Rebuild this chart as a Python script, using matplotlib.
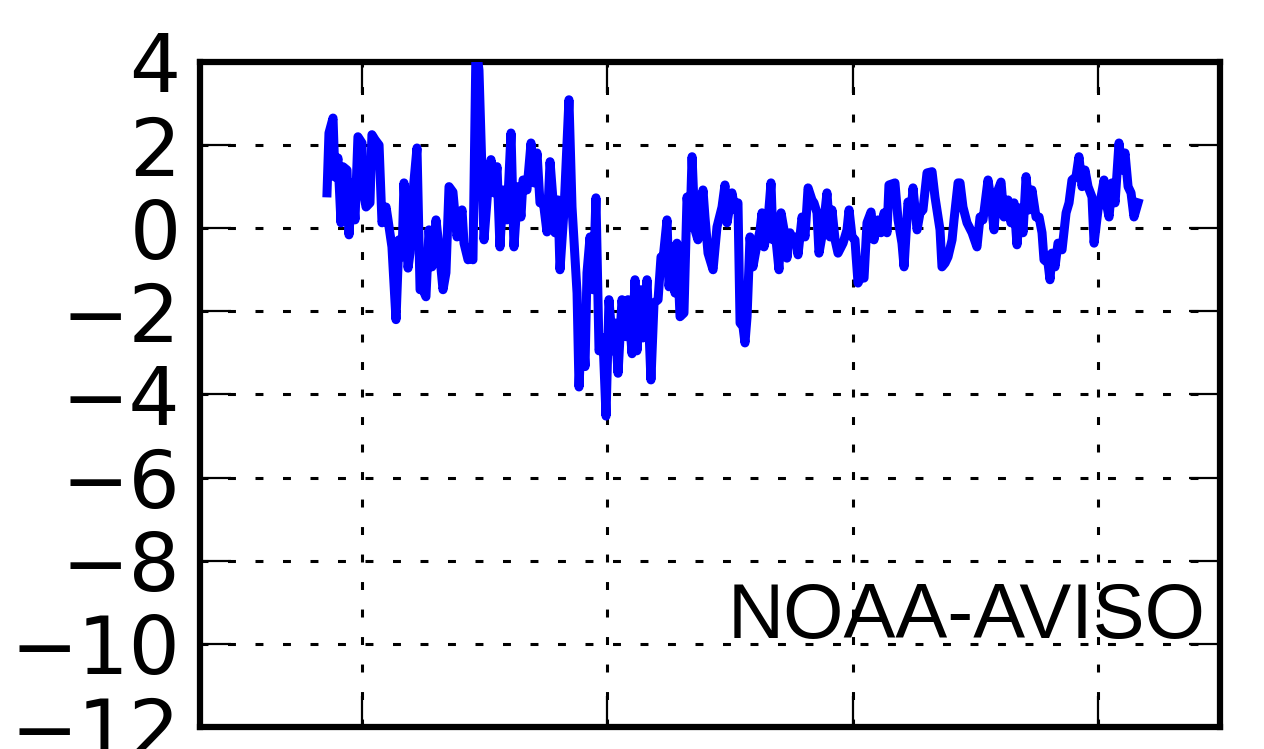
import numpy as np
import matplotlib
matplotlib.use("Agg")
import matplotlib.pyplot as plt

# time axis (decimal years) and anomaly values
years = [
    1957.15, 1957.31, 1957.64, 1957.80, 1958.04, 1958.29, 1958.45, 1958.78, 1958.94, 1959.19,
    1959.43, 1959.67, 1960.00, 1960.08, 1960.33, 1960.65, 1960.81, 1961.06, 1961.39, 1961.63,
    1961.96, 1962.12, 1962.44, 1962.77, 1963.01, 1963.26, 1963.42, 1963.75, 1963.91, 1964.15,
    1964.48, 1964.73, 1964.97, 1965.21, 1965.46, 1965.70, 1966.03, 1966.27, 1966.60, 1966.84,
    1967.09, 1967.41, 1967.74,
    1968.15, 1968.31, 1968.64, 1968.88, 1969.04, 1969.29, 1969.53, 1969.94, 1970.27, 1970.51,
    1970.75, 1971.00, 1971.24, 1971.49, 1971.81, 1972.14, 1972.38, 1972.71, 1972.95, 1973.12,
    1973.44, 1973.77, 1974.01, 1974.26, 1974.50, 1974.75, 1975.07, 1975.32, 1975.56, 1975.72,
    1975.97, 1976.13, 1976.46, 1976.86, 1977.11, 1977.52,
    1977.68, 1977.92, 1978.17, 1978.33, 1978.58, 1978.82, 1979.06, 1979.31, 1979.63, 1979.88,
    1980.12, 1980.45, 1980.61, 1980.86, 1981.18, 1981.51, 1981.67, 1982.00, 1982.24, 1982.40,
    1982.73, 1982.89, 1983.22, 1983.54, 1983.79, 1984.12, 1984.36, 1984.52, 1984.85, 1985.01,
    1985.34, 1985.50, 1985.66, 1985.91, 1986.23, 1986.48, 1986.72, 1986.89,
    1987.13, 1987.37, 1987.78, 1987.94, 1988.19, 1988.60, 1988.92, 1989.33, 1989.57, 1989.74,
    1990.14, 1990.39, 1990.63, 1990.80, 1991.04, 1991.20, 1991.37, 1991.61, 1991.85, 1992.10,
    1992.43, 1992.59, 1992.75, 1993.00, 1993.32, 1993.48, 1993.73, 1993.97, 1994.14, 1994.38,
    1994.62, 1994.87, 1995.11, 1995.36, 1995.52, 1995.85, 1996.09, 1996.34, 1996.66, 1996.82,
    1997.07, 1997.23, 1997.56, 1997.88,
    1998.13, 1998.29, 1998.54, 1998.78, 1999.19, 1999.51, 1999.68, 1999.92, 2000.16, 2000.41,
    2000.65, 2000.90, 2001.14, 2001.47, 2001.71, 2002.04, 2002.28, 2002.53, 2002.77, 2002.93,
    2003.42, 2003.67, 2003.99, 2004.16, 2004.48, 2004.73, 2004.89, 2005.22, 2005.46, 2005.70,
    2006.03, 2006.44, 2006.68, 2007.09, 2007.25, 2007.50, 2007.74, 2008.07, 2008.23, 2008.56,
    2008.72, 2008.96, 2009.29, 2009.70, 2010.10,
    2010.35, 2010.59, 2011.00, 2011.24, 2011.49, 2011.73, 2012.06, 2012.30, 2012.63, 2012.87,
    2013.12, 2013.36, 2013.61, 2013.85, 2014.10, 2014.34, 2014.58, 2014.91, 2015.16, 2015.40,
    2015.56, 2015.89, 2016.05, 2016.21, 2016.46, 2016.70, 2017.03, 2017.36, 2017.60, 2017.84,
    2018.17, 2018.41, 2018.66, 2018.90, 2019.15, 2019.47, 2019.64, 2019.96, 2020.21, 2020.45,
    2020.70, 2020.86, 2021.10, 2021.35, 2021.67, 2021.92, 2022.16, 2022.41, 2022.65, 2022.89,
    2023.22,
]
anomaly = [
    0.85, 2.29, 2.65, 1.23, 1.69, 0.13, 1.48, 1.40, -0.16, 1.09,
    0.20, 2.20, 2.05, 0.92, 0.51, 0.61, 2.25, 2.13, 2.00, 0.13,
    0.51, 0.20, -0.45, -2.20, -0.28, -0.69, 1.09, -0.96, -0.60, 0.85,
    1.93, -1.48, -1.48, -1.65, -0.04, -0.93, 0.20, -0.45, -1.48, -1.07,
    1.00, 0.87, -0.21,
    0.44, -0.36, -0.76, -0.69, -0.76, 4.40, 3.80, -0.28, 1.00, 1.65,
    0.85, 1.48, -0.45, 0.92, 0.20, 2.29, -0.45, 1.00, 0.27, 1.16,
    0.92, 2.05, 1.09, 1.81, 0.61, 0.68, -0.09, 1.60, 0.68, -0.11,
    0.68, -1.00, 0.44, 3.09, 0.51, -1.56,
    -3.82, -2.13, -3.33, -1.07, -0.21, -1.48, 0.73, -2.95, -2.64, -4.52,
    -1.72, -2.95, -2.28, -3.49, -1.72, -2.61, -1.72, -3.02, -1.24, -2.95,
    -1.48, -2.64, -1.24, -3.65, -1.80, -1.72, -0.69, -0.76, 0.20, -1.41,
    -0.45, -1.56, -0.36, -2.13, -2.04, 0.75, 0.03, 1.72,
    -0.04, -0.28, 0.92, 0.27, -0.60, -1.00, 0.03, 0.51, 1.04, 0.13,
    0.85, 0.44, 0.61, -2.28, -2.37, -2.76, -2.13, -0.21, -0.93, -0.52,
    -0.04, 0.37, -0.45, -0.11, 1.09, -0.28, -0.28, -1.00, 0.37, -0.04,
    -0.72, -0.11, -0.36, -0.21, -0.64, 0.27, -0.21, 0.97, 0.68, 0.61,
    0.37, -0.60, -0.04, 0.85,
    -0.21, 0.44, -0.28, -0.60, -0.36, -0.04, 0.44, -0.21, -0.28, -1.32,
    -1.16, -1.20, 0.13, 0.39, -0.28, 0.20, -0.11, 0.37, -0.11, 1.04,
    1.09, 0.20, -0.36, -0.93, 0.63, 0.37, 0.97, -0.04, 0.37, 0.44,
    1.33, 1.36, 0.75, -0.04, -0.93, -0.84, -0.69, -0.28, 0.20, 1.09,
    1.09, 0.51, 0.13, -0.11, -0.45,
    0.27, 0.20, 1.16, 0.68, -0.04, 0.85, 1.11, 0.27, 0.68, 0.13,
    0.61, -0.40, 0.49, -0.11, 1.24, 0.44, 0.92, 0.27, 0.27, -0.11,
    -0.76, -0.84, -1.24, -0.60, -0.93, -0.36, -0.52, 0.37, 0.61, 1.16,
    1.24, 1.72, 1.00, 1.40, 1.00, 0.75, -0.36, 0.44, 0.75, 1.16,
    0.51, 0.27, 1.09, 0.61, 2.05, 1.40, 1.81, 1.00, 0.85, 0.27,
    0.61,
]
y_ticks = [4, 2, 0, -2, -4, -6, -8, -10, -12]
x_ticks = [1960, 1980, 2000, 2020]
label = "NOAA-AVISO"

fig = plt.figure(figsize=(12.64, 7.49), dpi=100)
ax = fig.add_axes([0.1582, 0.0294, 0.807, 0.8879])

ax.plot(years, anomaly, color="#0000ff", lw=6.5, solid_joinstyle="round", zorder=3)

ax.set_xlim(1946.8, 2029.9)
ax.set_ylim(-12, 4)
ax.set_xticks(x_ticks)
ax.set_xticklabels([])
ax.set_yticks(y_ticks)
ax.set_yticklabels([str(t).replace("-", "\u2212") for t in y_ticks],
                   fontsize=58, family="DejaVu Sans")

ax.grid(True, color="black", lw=2.2, linestyle=(0, (2.6, 6.4)), zorder=1)
ax.tick_params(direction="in", length=22, width=1.6, top=True, right=True, pad=14)
for s in ax.spines.values():
    s.set_linewidth(4.5)

ax.text(0.986, 0.134, label, transform=ax.transAxes, ha="right", va="baseline",
        fontsize=56, family="Liberation Sans")

fig.savefig("out.png", dpi=100)
